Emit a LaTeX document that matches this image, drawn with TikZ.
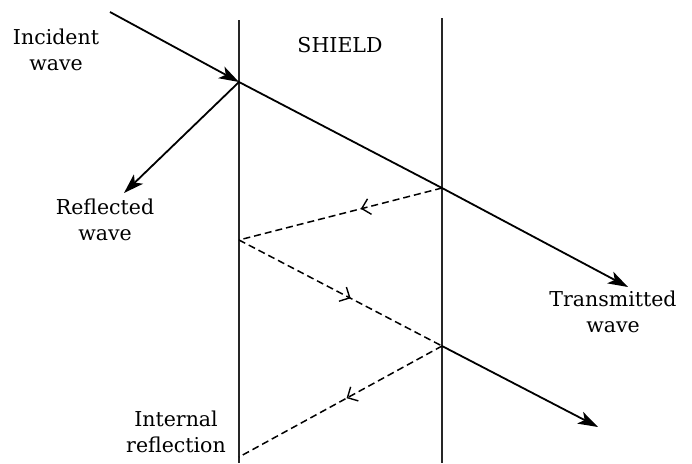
\documentclass[tikz,border=0pt]{standalone}
\usepackage{fontspec}
\setmainfont{DejaVu Serif}
\usetikzlibrary{arrows.meta,decorations.markings}
\tikzset{
  wall/.style={line width=1.8pt,black!85},
  ray/.style={line width=1.8pt,black},
  rarr/.style={ray,-{Stealth[length=20pt,width=13pt,inset=5pt]}},
  iarr/.style={ray,line width=1.5pt,dash pattern=on 7pt off 4pt,
               postaction={decorate},
               decoration={markings,mark=at position #1 with
                 {\arrow{Straight Barb[length=8pt,width=16pt,line width=1.4pt]}}}},
  lbl/.style={font=\fontsize{20.5}{26}\selectfont,align=center,inner sep=0pt},
}

\begin{document}
\begin{tikzpicture}[x=1pt,y=-1pt]
  \useasboundingbox (0,0) rectangle (692,463);

  %% ── shield walls ─────────────────────────────────────────────────────────
  \coordinate (lwtop) at (239,20);
  \coordinate (lwbot) at (239,463);
  \coordinate (rwtop) at (442,18);
  \coordinate (rwbot) at (442,463);
  \draw[wall] (lwtop) -- (lwbot);
  \draw[wall] (rwtop) -- (rwbot);

  %% ── ray points ───────────────────────────────────────────────────────────
  \coordinate (src)  at (110,12);
  \coordinate (hitA) at (239,82);
  \coordinate (exA)  at (442,188);
  \coordinate (tipT) at (628,287);
  \coordinate (tipR) at (124,193);
  \coordinate (bncA) at (239,240);
  \coordinate (exB)  at (442,346);
  \coordinate (tipB) at (598,427);
  \coordinate (bncB) at (239,457);

  %% ── solid rays ───────────────────────────────────────────────────────────
  \draw[rarr] (src)  -- (hitA);
  \draw[rarr] (hitA) -- (exA) -- (tipT);
  \draw[rarr] (hitA) -- (tipR);
  \draw[rarr] (exB)  -- (tipB);

  %% ── internal reflections ─────────────────────────────────────────────────
  \draw[iarr=0.4]  (exA)  -- (bncA);
  \draw[iarr=0.55] (bncA) -- (exB);
  \draw[iarr=0.47] (exB)  -- (bncB);

  %% ── labels ───────────────────────────────────────────────────────────────
  \node[lbl] (incl)  at (56,50)   {Incident\\wave};
  \node[lbl] (shl)   at (340,45)  {SHIELD};
  \node[lbl] (refl)  at (105,220) {Reflected\\wave};
  \node[lbl] (trl)   at (613,312) {Transmitted\\wave};
  \node[lbl] (intl)  at (176,432) {Internal\\reflection};

\end{tikzpicture}
\end{document}
